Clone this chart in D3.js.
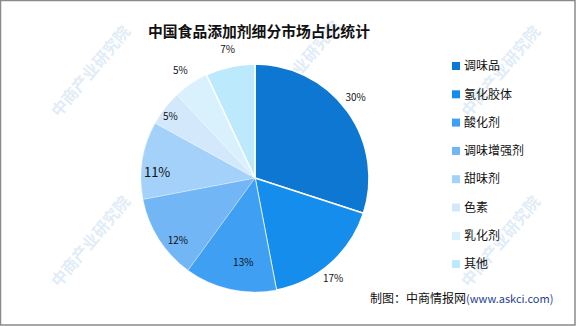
<!DOCTYPE html>
<meta charset="utf-8">
<script src="https://d3js.org/d3.v7.min.js"></script>
<style>
  body { margin: 0; }
  text { font-family: "Noto Sans CJK SC", "DejaVu Sans", sans-serif; }
</style>
<div id="my_dataviz"></div>
<script>
// data
var categories = ["调味品", "氢化胶体", "酸化剂", "调味增强剂", "甜味剂", "色素", "乳化剂", "其他"];
var shares = [30, 17, 13, 12, 11, 5, 5, 7];
var colors = ["#0d77d1", "#148ded", "#3f9ff2", "#72b6f5", "#a3d1f9", "#d3e9fb", "#d9f1fd", "#bde9fc"];

var width = 576, height = 326;
var cx = 255, cy = 178, radius = 114;

var svg = d3.select("#my_dataviz")
  .append("svg")
    .attr("width", width)
    .attr("height", height);

svg.append("rect")
  .attr("x", 0.5).attr("y", 0.5)
  .attr("width", width - 1.5).attr("height", height - 1.5)
  .attr("fill", "#fff")
  .attr("stroke", "#8a8a8a")
  .attr("stroke-width", 1.5);

// watermark, kept faint
var marks = [[95, 75], [305, 70], [505, 75], [95, 245], [305, 235], [505, 245]];
svg.selectAll("wm")
  .data(marks)
  .enter()
  .append("text")
    .attr("transform", function(d) { return "translate(" + d[0] + "," + d[1] + ")rotate(-50)"; })
    .attr("text-anchor", "middle")
    .attr("font-size", 16)
    .attr("font-weight", "bold")
    .attr("fill", "#a9cbe8")
    .attr("opacity", 0.35)
    .text("中商产业研究院");

svg.append("text")
  .attr("x", 148)
  .attr("y", 37)
  .attr("font-size", 14.8)
  .attr("font-weight", "bold")
  .attr("fill", "#111")
  .text("中国食品添加剂细分市场占比统计");

var pie = d3.pie().sort(null).value(function(d) { return d; });
var arcs = pie(shares);
var arc = d3.arc().innerRadius(0).outerRadius(radius);

var g = svg.append("g").attr("transform", "translate(" + cx + "," + cy + ")");

g.selectAll("slice")
  .data(arcs)
  .enter()
  .append("path")
    .attr("d", arc)
    .attr("fill", function(d, i) { return colors[i]; })
    .attr("stroke", "#fff")
    .attr("stroke-width", function(d, i) { return i < 2 || i == 7 ? 1.5 : 0.3; });

// where each label sits: fraction across the slice, and radius factor
var labelFrac = [0.475, 0.56, 0.40, 0.35, 0.36, 0.41, 0.47, 0.52];
var labelR = [1.13, 1.12, 0.75, 0.87, 0.86, 0.92, 1.15, 1.15];
function labelPos(d, i) {
  var a = d.startAngle + (d.endAngle - d.startAngle) * labelFrac[i];
  return [Math.sin(a) * radius * labelR[i], -Math.cos(a) * radius * labelR[i]];
}
g.selectAll("lbl")
  .data(arcs)
  .enter()
  .append("text")
    .attr("x", function(d, i) { return labelPos(d, i)[0]; })
    .attr("y", function(d, i) { return labelPos(d, i)[1]; })
    .attr("dy", "0.35em")
    .attr("text-anchor", "middle")
    .attr("font-family", "DejaVu Sans")
    .attr("font-size", function(d, i) { return i == 4 ? 13 : 10; })
    .attr("fill", "#111")
    .text(function(d) { return d.data + "%"; });

// legend
var legend = svg.selectAll("leg")
  .data(categories)
  .enter()
  .append("g")
    .attr("transform", function(d, i) { return "translate(452," + (66 + i * 28.3) + ")"; });
legend.append("rect")
  .attr("x", 0).attr("y", -4)
  .attr("width", 8).attr("height", 8)
  .attr("fill", function(d, i) { return colors[i]; });
legend.append("text")
  .attr("x", 12)
  .attr("dy", "0.35em")
  .attr("font-size", 12)
  .attr("fill", "#111")
  .text(function(d) { return d; });

var src = svg.append("text")
  .attr("x", 370)
  .attr("y", 303)
  .attr("font-size", 12)
  .attr("fill", "#111");
src.append("tspan").text("制图：中商情报网");
src.append("tspan").attr("fill", "#1f3f8f").attr("font-size", 11).text("(www.askci.com)");
</script>
